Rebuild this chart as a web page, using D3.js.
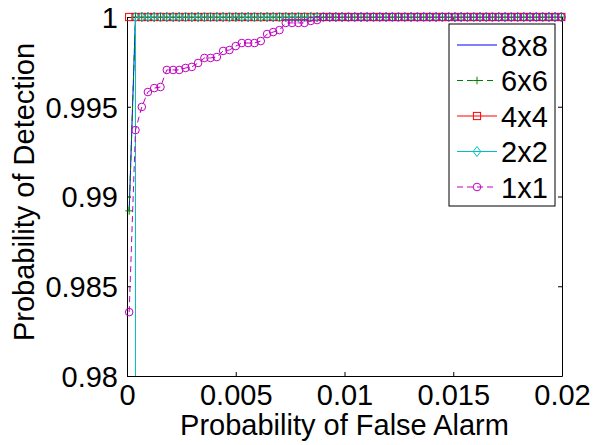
<!DOCTYPE html>
<html>
<head>
<meta charset="utf-8">
<script src="https://cdn.jsdelivr.net/npm/d3@7"></script>
<style>
  body { margin: 0; background: #fff; }
  text { font-family: "Liberation Sans", Arial, Helvetica, sans-serif; fill: #000; }
</style>
</head>
<body>
<div class="chart"></div>
<script>
// false alarm sampling grid
var pfaGrid = [0.00010, 0.00039, 0.00068, 0.00096, 0.00125, 0.00154, 0.00183, 0.00212, 0.00240, 0.00269,
  0.00298, 0.00327, 0.00356, 0.00384, 0.00413, 0.00442, 0.00471, 0.00500, 0.00528, 0.00557,
  0.00586, 0.00615, 0.00644, 0.00672, 0.00701, 0.00730, 0.00759, 0.00788, 0.00816, 0.00845,
  0.00874, 0.00903, 0.00932, 0.00960, 0.00989, 0.01018, 0.01047, 0.01076, 0.01104, 0.01133,
  0.01162, 0.01191, 0.01220, 0.01248, 0.01277, 0.01306, 0.01335, 0.01364, 0.01392, 0.01421,
  0.01450, 0.01479, 0.01508, 0.01536, 0.01565, 0.01594, 0.01623, 0.01652, 0.01680, 0.01709,
  0.01738, 0.01767, 0.01796, 0.01824, 0.01853, 0.01882, 0.01911, 0.01940, 0.01968, 0.01997];

// 2x2 starts with a vertical jump at the second grid point
var pfa2x2 = [0.00039].concat(pfaGrid.slice(1));

var pd8x8 = [0.9892, 1, 1, 1, 1, 1, 1, 1, 1, 1, 1, 1, 1, 1, 1, 1, 1, 1, 1, 1, 1, 1, 1, 1, 1, 1, 1, 1, 1, 1,
  1, 1, 1, 1, 1, 1, 1, 1, 1, 1, 1, 1, 1, 1, 1, 1, 1, 1, 1, 1, 1, 1, 1, 1, 1, 1, 1, 1, 1, 1, 1, 1, 1, 1, 1, 1, 1, 1, 1, 1];
var pd6x6 = [0.9892, 1, 1, 1, 1, 1, 1, 1, 1, 1, 1, 1, 1, 1, 1, 1, 1, 1, 1, 1, 1, 1, 1, 1, 1, 1, 1, 1, 1, 1,
  1, 1, 1, 1, 1, 1, 1, 1, 1, 1, 1, 1, 1, 1, 1, 1, 1, 1, 1, 1, 1, 1, 1, 1, 1, 1, 1, 1, 1, 1, 1, 1, 1, 1, 1, 1, 1, 1, 1, 1];
var pd4x4 = [1, 1, 1, 1, 1, 1, 1, 1, 1, 1, 1, 1, 1, 1, 1, 1, 1, 1, 1, 1, 1, 1, 1, 1, 1, 1, 1, 1, 1, 1,
  1, 1, 1, 1, 1, 1, 1, 1, 1, 1, 1, 1, 1, 1, 1, 1, 1, 1, 1, 1, 1, 1, 1, 1, 1, 1, 1, 1, 1, 1, 1, 1, 1, 1, 1, 1, 1, 1, 1, 1];
var pd2x2 = [0.97, 1, 1, 1, 1, 1, 1, 1, 1, 1, 1, 1, 1, 1, 1, 1, 1, 1, 1, 1, 1, 1, 1, 1, 1, 1, 1, 1, 1, 1,
  1, 1, 1, 1, 1, 1, 1, 1, 1, 1, 1, 1, 1, 1, 1, 1, 1, 1, 1, 1, 1, 1, 1, 1, 1, 1, 1, 1, 1, 1, 1, 1, 1, 1, 1, 1, 1, 1, 1, 1];
var pd1x1 = [0.98356, 0.99370, 0.99499, 0.99582, 0.99604, 0.99610, 0.99705, 0.99705, 0.99705, 0.99716,
  0.99722, 0.99744, 0.99772, 0.99772, 0.99777, 0.99811, 0.99816, 0.99838, 0.99855, 0.99855,
  0.99855, 0.99866, 0.99905, 0.99916, 0.99927, 0.99967, 0.99967, 0.99967, 0.99967, 0.99978,
  0.99983, 1, 1, 1, 1, 1, 1, 1, 1, 1, 1, 1, 1, 1, 1, 1, 1, 1, 1, 1,
  1, 1, 1, 1, 1, 1, 1, 1, 1, 1, 1, 1, 1, 1, 1, 1, 1, 1, 1, 1];

var seriesNames = ["8x8", "6x6", "4x4", "2x2", "1x1"];
var xTicks = [0, 0.005, 0.01, 0.015, 0.02];
var yTicks = [0.98, 0.985, 0.99, 0.995, 1];

var series = [
  {name: "8x8", x: pfaGrid, y: pd8x8, color: "#0000ff", dash: null, marker: null},
  {name: "6x6", x: pfaGrid, y: pd6x6, color: "#008000", dash: "6,4", marker: "plus"},
  {name: "4x4", x: pfaGrid, y: pd4x4, color: "#ff0000", dash: null, marker: "square"},
  {name: "2x2", x: pfa2x2, y: pd2x2, color: "#00bfbf", dash: null, marker: "diamond"},
  {name: "1x1", x: pfaGrid, y: pd1x1, color: "#bf00bf", dash: "6,4", marker: "circle"}
];

var W = 594, H = 445;
var margin = {top: 17, right: 32, bottom: 69, left: 127},
    width = W - margin.left - margin.right,
    height = H - margin.top - margin.bottom;

var x = d3.scaleLinear().domain([0, 0.02]).range([0, width]);
var y = d3.scaleLinear().domain([0.98, 1]).range([height, 0]);

var svg = d3.select(".chart").append("svg")
  .attr("width", W)
  .attr("height", H);

svg.append("rect").attr("width", W).attr("height", H).attr("fill", "#fff");

var g = svg.append("g")
  .attr("transform", `translate(${margin.left}, ${margin.top})`);

g.append("defs").append("clipPath").attr("id", "plotclip")
  .append("rect").attr("width", width).attr("height", height);

// axes with inward ticks, boxed like matlab
var fmt = d3.format("");
var tickLen = 4;
var xAxis = g.append("g").attr("transform", `translate(0, ${height})`)
  .call(d3.axisBottom(x).tickValues(xTicks).tickSizeInner(-tickLen).tickSizeOuter(0).tickPadding(8).tickFormat(d => fmt(d)));
var xTop = g.append("g")
  .call(d3.axisTop(x).tickValues(xTicks).tickSizeInner(-tickLen).tickSizeOuter(0).tickFormat(""));
var yAxis = g.append("g")
  .call(d3.axisLeft(y).tickValues(yTicks).tickSizeInner(-tickLen).tickSizeOuter(0).tickPadding(9).tickFormat(d => fmt(d)));
var yRight = g.append("g").attr("transform", `translate(${width}, 0)`)
  .call(d3.axisRight(y).tickValues(yTicks).tickSizeInner(-tickLen).tickSizeOuter(0).tickFormat(""));

[xAxis, xTop, yAxis, yRight].forEach(a => {
  a.selectAll("path").attr("stroke", "#000").attr("stroke-width", 1);
  a.selectAll("line").attr("stroke", "#000");
  a.selectAll("text").attr("font-size", "29px").attr("fill", "#000")
    .attr("font-family", "'Liberation Sans', Arial, Helvetica, sans-serif");
});
yAxis.selectAll("text").attr("dy", "0.36em");
xAxis.selectAll("text").attr("dy", "0.73em");

// axis labels
svg.append("text")
  .attr("x", margin.left + width / 2)
  .attr("y", 435)
  .attr("text-anchor", "middle")
  .attr("font-size", "29px")
  .text("Probability of False Alarm");

svg.append("text")
  .attr("transform", "translate(34, 192) rotate(-90)")
  .attr("text-anchor", "middle")
  .attr("font-size", "29px")
  .text("Probability of Detection");

function drawMarker(sel, type, color) {
  if (type === "circle") {
    sel.append("circle").attr("r", 3.8).attr("fill", "none").attr("stroke", color).attr("stroke-width", 1);
  } else if (type === "square") {
    sel.append("rect").attr("x", -3.6).attr("y", -3.6).attr("width", 7.2).attr("height", 7.2)
      .attr("fill", "none").attr("stroke", color).attr("stroke-width", 1);
  } else if (type === "diamond") {
    sel.append("path").attr("d", "M0,-5L3.8,0L0,5L-3.8,0Z")
      .attr("fill", "none").attr("stroke", color).attr("stroke-width", 1);
  } else if (type === "plus") {
    sel.append("path").attr("d", "M-3.8,0H3.8M0,-3.8V3.8")
      .attr("fill", "none").attr("stroke", color).attr("stroke-width", 1);
  }
}

var line = d3.line()
  .x(d => x(d[0]))
  .y(d => y(d[1]));

series.forEach(s => {
  let pts = s.x.map((v, i) => [v, s.y[i]]);
  g.append("path")
    .datum(pts)
    .attr("clip-path", "url(#plotclip)")
    .attr("fill", "none")
    .attr("stroke", s.color)
    .attr("stroke-width", 1)
    .attr("stroke-dasharray", s.dash)
    .attr("d", line);

  if (s.marker) {
    g.append("g").selectAll("g")
      .data(pts.filter(p => p[1] >= 0.98 && p[1] <= 1))
      .enter().append("g")
      .attr("transform", d => `translate(${x(d[0])}, ${y(d[1])})`)
      .each(function() { drawMarker(d3.select(this), s.marker, s.color); });
  }
});

// legend
var legend = svg.append("g").attr("transform", "translate(449, 24)");
legend.append("rect")
  .attr("width", 106).attr("height", 182)
  .attr("fill", "#fff").attr("stroke", "#000").attr("stroke-width", 1);

var rowY = d3.scalePoint().domain(seriesNames).range([21, 163]);

series.forEach(s => {
  let row = legend.append("g").attr("transform", `translate(0, ${rowY(s.name)})`);
  row.append("line")
    .attr("x1", 8).attr("x2", 48)
    .attr("stroke", s.color).attr("stroke-width", 1)
    .attr("stroke-dasharray", s.dash);
  if (s.marker) {
    drawMarker(row.append("g").attr("transform", "translate(28, 0)"), s.marker, s.color);
  }
  row.append("text")
    .attr("x", 52).attr("y", 10.5)
    .attr("font-size", "29px")
    .text(s.name);
});
</script>
</body>
</html>
